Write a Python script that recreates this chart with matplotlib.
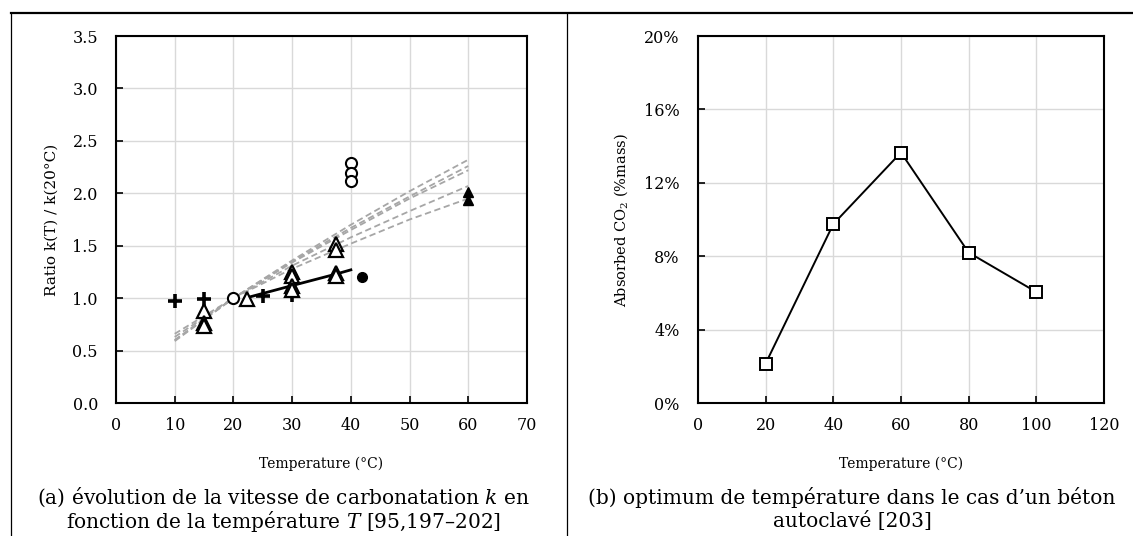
import matplotlib
matplotlib.use('Agg')
import matplotlib.pyplot as plt
from matplotlib.lines import Line2D
from matplotlib.ticker import PercentFormatter

plt.rcParams['font.family'] = ['DejaVu Serif']
plt.rcParams['mathtext.fontset'] = 'dejavuserif'

# ---- data (a): ratio k(T)/k(20°C) ----
plus_T = [10, 15, 25, 30]
plus_r = [0.97, 0.99, 1.02, 1.03]
tri_T = [15, 15, 15, 22.3, 30, 30, 30, 30, 37.5, 37.5, 37.5, 37.5]
tri_r = [0.88, 0.76, 0.73, 0.99, 1.25, 1.21, 1.12, 1.08, 1.52, 1.46, 1.24, 1.21]
circ_T = [20, 40, 40, 40]
circ_r = [1.0, 2.29, 2.19, 2.12]
dot_T = [41.9]
dot_r = [1.2]
ftri_T = [60, 60]
ftri_r = [2.01, 1.94]
fit_T = [22, 30, 37.5, 40]
fit_r = [1.0, 1.12, 1.23, 1.27]
# gray dashed model curves, read at 10..60 °C
curve_T = [10, 20, 30, 40, 50, 60]
curves = [
    [0.59, 1.0, 1.36, 1.70, 2.02, 2.32],
    [0.60, 1.0, 1.35, 1.67, 1.97, 2.26],
    [0.60, 1.0, 1.34, 1.65, 1.95, 2.22],
    [0.63, 1.0, 1.31, 1.58, 1.83, 2.07],
    [0.66, 1.0, 1.28, 1.52, 1.75, 1.95],
]

# ---- data (b): absorbed CO2 ----
b_T = [20, 40, 60, 80, 100]
b_co2 = [2.15, 9.75, 13.65, 8.2, 6.05]

fig = plt.figure(figsize=(11.33, 5.36), dpi=100)
ax1 = fig.add_axes([0.1024, 0.2481, 0.3627, 0.6847])
ax2 = fig.add_axes([0.616, 0.2481, 0.3584, 0.6847])

grid_c = '#d9d9d9'
for ax in (ax1, ax2):
    ax.grid(True, color=grid_c, lw=1.0)
    ax.set_axisbelow(True)
    for s in ax.spines.values():
        s.set_linewidth(1.5)
        s.set_color('black')
    ax.tick_params(direction='in', length=5, width=1.2, labelsize=11.5)
    ax.tick_params(axis='y', pad=13)
    ax.tick_params(axis='x', pad=10)
    ax.set_xlabel('Temperature (°C)', fontsize=10, labelpad=16)

# panel (a)
for c in curves:
    ax1.plot(curve_T, c, ls=(0, (3.5, 2)), color='#a6a6a6', lw=1.3, zorder=2)
ax1.plot(fit_T, fit_r, color='black', lw=2.0, zorder=3)
ax1.plot(plus_T, plus_r, ls='none', marker='+', ms=10, mew=2.6, color='black', zorder=4)
ax1.plot(tri_T, tri_r, ls='none', marker='^', ms=9.5, mfc='white', mec='black', mew=1.6, zorder=5)
ax1.plot(circ_T, circ_r, ls='none', marker='o', ms=8, mfc='white', mec='black', mew=1.5, zorder=5)
ax1.plot(dot_T, dot_r, ls='none', marker='o', ms=7, color='black', zorder=5)
ax1.plot(ftri_T, ftri_r, ls='none', marker='^', ms=7, color='black', zorder=5)
ax1.set_xlim(0, 70)
ax1.set_ylim(0, 3.5)
ax1.set_xticks(range(0, 71, 10))
ax1.set_yticks([0, 0.5, 1.0, 1.5, 2.0, 2.5, 3.0, 3.5])
ax1.set_yticklabels(['%.1f' % v for v in [0, 0.5, 1.0, 1.5, 2.0, 2.5, 3.0, 3.5]])
ax1.set_ylabel('Ratio k(T) / k(20°C)', fontsize=11, labelpad=10)

# panel (b)
ax2.plot(b_T, b_co2, color='black', lw=1.4, marker='s', ms=9, mfc='white', mec='black', mew=1.4)
ax2.set_xlim(0, 120)
ax2.set_ylim(0, 20)
ax2.set_xticks(range(0, 121, 20))
ax2.set_yticks(range(0, 21, 4))
ax2.yaxis.set_major_formatter(PercentFormatter(decimals=0))
ax2.set_ylabel('Absorbed CO$_2$ (%mass)', fontsize=10.5, labelpad=10)

# captions
cap = dict(ha='center', va='center', fontsize=14.5)
fig.text(283 / 1133, 1 - 497 / 536, '(a) évolution de la vitesse de carbonatation $k$ en', **cap)
fig.text(283 / 1133, 1 - 521 / 536, 'fonction de la température $T$ [95,197–202]', **cap)
fig.text(852 / 1133, 1 - 497 / 536, '(b) optimum de température dans le cas d\u2019un béton', **cap)
fig.text(852 / 1133, 1 - 521 / 536, 'autoclavé [203]', **cap)

# table borders
top_y = 1 - 12.5 / 536
fig.add_artist(Line2D([11 / 1133, 1], [top_y, top_y], transform=fig.transFigure, color='black', lw=1.6))
fig.add_artist(Line2D([11 / 1133, 11 / 1133], [0, top_y], transform=fig.transFigure, color='black', lw=0.9))
fig.add_artist(Line2D([567 / 1133, 567 / 1133], [0, top_y], transform=fig.transFigure, color='black', lw=0.9))

fig.savefig('out.png', dpi=100)
